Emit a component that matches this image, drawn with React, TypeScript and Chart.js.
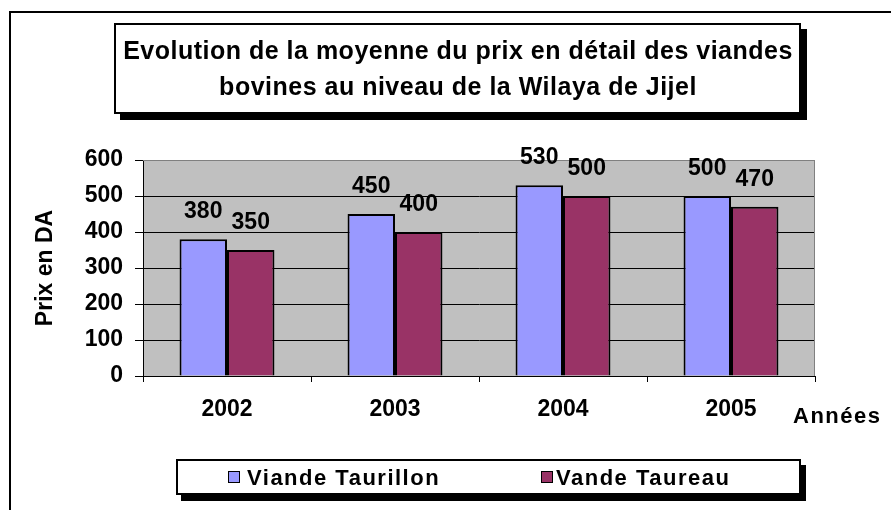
import React, { useEffect, useRef } from "react";
import { Chart, registerables } from "chart.js";

Chart.register(...registerables);

const years = ["2002", "2003", "2004", "2005"];
const taurillon = [380, 450, 530, 500];
const taureau = [350, 400, 500, 470];
const seriesNames = ["Viande Taurillon", "Vande Taureau"];
const yTicks = [0, 100, 200, 300, 400, 500, 600];
const titleLines = [
  "Evolution de la moyenne du prix en détail des viandes",
  "bovines au niveau de la Wilaya de Jijel",
];
const yTitle = "Prix en DA";
const xTitle = "Années";

const FONT = "'Liberation Sans', Arial, sans-serif";
const colors = ["#9999FF", "#993366"];

export default function App() {
  const ref = useRef<HTMLCanvasElement>(null);
  useEffect(() => {
    const canvas = ref.current!;
    const decor = {
      id: "decor",
      beforeDraw(chart: any) {
        const ctx = chart.ctx;
        const a = chart.chartArea;
        ctx.save();
        ctx.fillStyle = "#ffffff";
        ctx.fillRect(0, 0, chart.width, chart.height);
        ctx.fillStyle = "#C0C0C0";
        ctx.fillRect(a.left, a.top, a.right - a.left, a.bottom - a.top);
        ctx.restore();
      },
      afterDraw(chart: any) {
        const ctx = chart.ctx;
        const a = chart.chartArea;
        ctx.save();
        // plot border top/right gray
        ctx.strokeStyle = "#808080";
        ctx.lineWidth = 1;
        ctx.beginPath();
        ctx.moveTo(a.left, a.top + 0.5);
        ctx.lineTo(a.right - 0.5, a.top + 0.5);
        ctx.lineTo(a.right - 0.5, a.bottom);
        ctx.stroke();
        // outer border
        ctx.strokeStyle = "#000";
        ctx.lineWidth = 2;
        ctx.beginPath();
        ctx.moveTo(10, chart.height + 2);
        ctx.lineTo(10, 12);
        ctx.lineTo(chart.width + 2, 12);
        ctx.stroke();
        // title box
        ctx.fillStyle = "#000";
        ctx.fillRect(120, 29, 687, 91);
        ctx.fillStyle = "#fff";
        ctx.fillRect(114, 23, 687, 91);
        ctx.strokeStyle = "#000";
        ctx.lineWidth = 2;
        ctx.strokeRect(115, 24, 685, 89);
        ctx.fillStyle = "#000";
        ctx.font = `bold 25px ${FONT}`;
        (ctx as any).letterSpacing = "0.5px";
        ctx.textAlign = "center";
        ctx.textBaseline = "alphabetic";
        ctx.fillText(titleLines[0], 458, 59);
        ctx.fillText(titleLines[1], 458, 95);
        (ctx as any).letterSpacing = "0px";
        // y title
        ctx.save();
        ctx.translate(46, 268);
        ctx.rotate(-Math.PI / 2);
        ctx.textBaseline = "middle";
        ctx.font = `bold 23px ${FONT}`;
        ctx.fillText(yTitle, 0, 0);
        ctx.restore();
        // x title
        ctx.textAlign = "left";
        ctx.font = `bold 22px ${FONT}`;
        (ctx as any).letterSpacing = "1.5px";
        ctx.fillText(xTitle, 793, 423);
        (ctx as any).letterSpacing = "0px";
        // data labels
        ctx.textAlign = "center";
        ctx.font = `bold 23px ${FONT}`;
        chart.data.datasets.forEach((ds: any, di: number) => {
          const meta = chart.getDatasetMeta(di);
          meta.data.forEach((bar: any, i: number) => {
            ctx.fillText(String(ds.data[i]), bar.x, bar.y - 21);
          });
        });
        // legend box
        ctx.fillStyle = "#000";
        ctx.fillRect(181, 465, 625, 36);
        ctx.fillStyle = "#fff";
        ctx.fillRect(176, 459, 625, 36);
        ctx.strokeStyle = "#000";
        ctx.lineWidth = 2;
        ctx.strokeRect(177, 460, 623, 34);
        const items = [
          { sx: 228, tx: 247 },
          { sx: 541, tx: 556 },
        ];
        ctx.font = `bold 22px ${FONT}`;
        (ctx as any).letterSpacing = "1.5px";
        ctx.textAlign = "left";
        items.forEach((it, i) => {
          ctx.fillStyle = colors[i];
          ctx.fillRect(it.sx, 471, 12, 12);
          ctx.strokeStyle = "#000";
          ctx.lineWidth = 1;
          ctx.strokeRect(it.sx + 0.5, 471.5, 11, 11);
          ctx.fillStyle = "#000";
          ctx.fillText(seriesNames[i], it.tx, 485);
        });
        ctx.restore();
      },
    };
    const chart = new Chart(canvas, {
      type: "bar",
      data: {
        labels: years,
        datasets: [
          {
            label: seriesNames[0],
            data: taurillon,
            backgroundColor: colors[0],
            borderColor: "#000",
            borderWidth: 2,
          },
          {
            label: seriesNames[1],
            data: taureau,
            backgroundColor: colors[1],
            borderColor: "#000",
            borderWidth: 2,
          },
        ],
      },
      options: {
        responsive: false,
        animation: false,
        layout: { padding: { top: 160, right: 76, left: 0, bottom: 0 } },
        datasets: { bar: { categoryPercentage: 0.565, barPercentage: 1 } },
        plugins: {
          legend: { display: false },
          title: { display: false },
          tooltip: { enabled: false },
        },
        scales: {
          y: {
            min: 0,
            max: 600,
            afterFit: (s: any) => {
              s.width = 143;
            },
            afterBuildTicks: (s: any) => {
              s.ticks = yTicks.map((v) => ({ value: v }));
            },
            ticks: {
              color: "#000",
              font: { family: FONT, size: 23, weight: "bold" },
              padding: 12,
            },
            grid: {
              color: (c: any) => (c.tick && c.tick.value === 600 ? "#808080" : "#000"),
              tickColor: "#000",
              tickLength: 8,
              lineWidth: 1,
            },
            border: { display: true, color: "#000", width: 1 },
          },
          x: {
            afterFit: (s: any) => {
              s.height = 134;
            },
            ticks: {
              color: "#000",
              font: { family: FONT, size: 23, weight: "bold" },
              padding: 14,
            },
            grid: {
              offset: true,
              drawOnChartArea: false,
              color: "#000",
              tickLength: 6,
            },
            border: { display: true, color: "#000", width: 1 },
          },
        },
      },
      plugins: [decor],
    });
    return () => chart.destroy();
  }, []);
  return (
    <div style={{ position: "fixed", left: 0, top: 0, width: 891, height: 510, background: "#fff" }}>
      <canvas ref={ref} width={891} height={510} style={{ display: "block" }} />
    </div>
  );
}
